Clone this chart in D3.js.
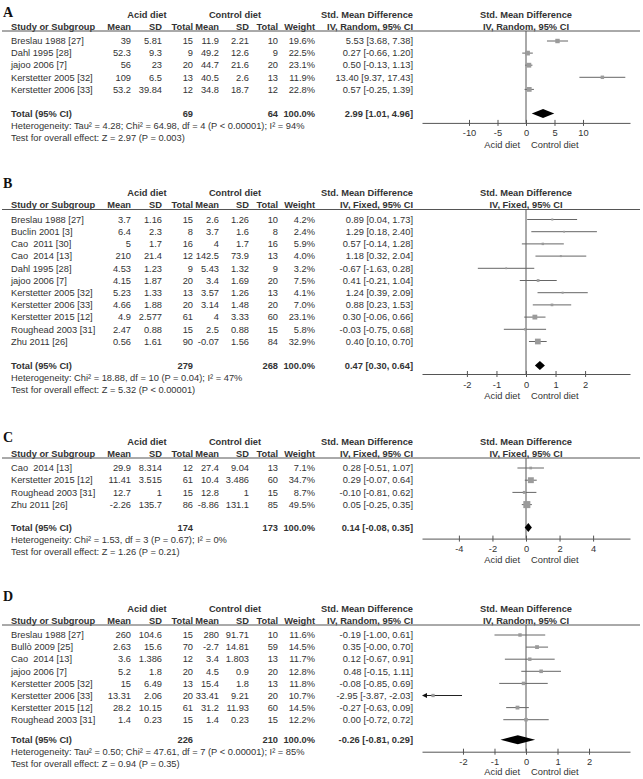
<!DOCTYPE html>
<html><head><meta charset="utf-8">
<script src="https://cdn.jsdelivr.net/npm/d3@7"></script>
<style>
body{margin:0;background:#fff}
svg{display:block}
text{font-family:"Liberation Sans",Arial,sans-serif;font-size:9.3px;fill:#333;white-space:pre}
</style>
</head><body>
<svg id="chart" width="643" height="779"></svg>
<script>
// ---------------- DATA ----------------
// Panel A
const studiesA = ["Breslau 1988 [27]", "Dahl 1995 [28]", "jajoo 2006 [7]", "Kerstetter 2005 [32]", "Kerstetter 2006 [33]"];
const acidMeanA = [39, 52.3, 56, 109, 53.2];
const acidSdA = [5.81, 9.3, 23, 6.5, 39.84];
const acidNA = [15, 9, 20, 13, 12];
const ctrlMeanA = [11.9, 49.2, 44.7, 40.5, 34.8];
const ctrlSdA = [2.21, 12.6, 21.6, 2.6, 18.7];
const ctrlNA = [10, 9, 20, 13, 12];
const weightA = [19.6, 22.5, 23.1, 11.9, 22.8];
const smdA = [5.53, 0.27, 0.50, 13.40, 0.57];
const loA = [3.68, -0.66, -0.13, 9.37, -0.25];
const hiA = [7.38, 1.20, 1.13, 17.43, 1.39];
const totalA = {acidN: 69, ctrlN: 64, weight: 100.0, est: 2.99, lo: 1.01, hi: 4.96};
const hetA = "Heterogeneity: Tau² = 4.28; Chi² = 64.98, df = 4 (P < 0.00001); I² = 94%";
const testA = "Test for overall effect: Z = 2.97 (P = 0.003)";
const ticksA = [-10, -5, 0, 5, 10];

// Panel B
const studiesB = ["Breslau 1988 [27]", "Buclin 2001 [3]", "Cao  2011 [30]", "Cao  2014 [13]", "Dahl 1995 [28]", "jajoo 2006 [7]", "Kerstetter 2005 [32]", "Kerstetter 2006 [33]", "Kerstetter 2015 [12]", "Roughead 2003 [31]", "Zhu 2011 [26]"];
const acidMeanB = [3.7, 6.4, 5, 210, 4.53, 4.15, 5.23, 4.66, 4.9, 2.47, 0.56];
const acidSdB = [1.16, 2.3, 1.7, 21.4, 1.23, 1.87, 1.33, 1.88, 2.577, 0.88, 1.61];
const acidNB = [15, 8, 16, 12, 9, 20, 13, 20, 61, 15, 90];
const ctrlMeanB = [2.6, 3.7, 4, 142.5, 5.43, 3.4, 3.57, 3.14, 4, 2.5, -0.07];
const ctrlSdB = [1.26, 1.6, 1.7, 73.9, 1.32, 1.69, 1.26, 1.48, 3.33, 0.88, 1.56];
const ctrlNB = [10, 8, 16, 13, 9, 20, 13, 20, 60, 15, 84];
const weightB = [4.2, 2.4, 5.9, 4.0, 3.2, 7.5, 4.1, 7.0, 23.1, 5.8, 32.9];
const smdB = [0.89, 1.29, 0.57, 1.18, -0.67, 0.41, 1.24, 0.88, 0.30, -0.03, 0.40];
const loB = [0.04, 0.18, -0.14, 0.32, -1.63, -0.21, 0.39, 0.23, -0.06, -0.75, 0.10];
const hiB = [1.73, 2.40, 1.28, 2.04, 0.28, 1.04, 2.09, 1.53, 0.66, 0.68, 0.70];
const totalB = {acidN: 279, ctrlN: 268, weight: 100.0, est: 0.47, lo: 0.30, hi: 0.64};
const hetB = "Heterogeneity: Chi² = 18.88, df = 10 (P = 0.04); I² = 47%";
const testB = "Test for overall effect: Z = 5.32 (P < 0.00001)";
const ticksB = [-2, -1, 0, 1, 2];

// Panel C
const studiesC = ["Cao  2014 [13]", "Kerstetter 2015 [12]", "Roughead 2003 [31]", "Zhu 2011 [26]"];
const acidMeanC = [29.9, 11.41, 12.7, -2.26];
const acidSdC = [8.314, 3.515, 1, 135.7];
const acidNC = [12, 61, 15, 86];
const ctrlMeanC = [27.4, 10.4, 12.8, -8.86];
const ctrlSdC = [9.04, 3.486, 1, 131.1];
const ctrlNC = [13, 60, 15, 85];
const weightC = [7.1, 34.7, 8.7, 49.5];
const smdC = [0.28, 0.29, -0.10, 0.05];
const loC = [-0.51, -0.07, -0.81, -0.25];
const hiC = [1.07, 0.64, 0.62, 0.35];
const totalC = {acidN: 174, ctrlN: 173, weight: 100.0, est: 0.14, lo: -0.08, hi: 0.35};
const hetC = "Heterogeneity: Chi² = 1.53, df = 3 (P = 0.67); I² = 0%";
const testC = "Test for overall effect: Z = 1.26 (P = 0.21)";
const ticksC = [-4, -2, 0, 2, 4];

// Panel D
const studiesD = ["Breslau 1988 [27]", "Bullò 2009 [25]", "Cao  2014 [13]", "jajoo 2006 [7]", "Kerstetter 2005 [32]", "Kerstetter 2006 [33]", "Kerstetter 2015 [12]", "Roughead 2003 [31]"];
const acidMeanD = [260, 2.63, 3.6, 5.2, 15, 13.31, 28.2, 1.4];
const acidSdD = [104.6, 15.6, 1.386, 1.8, 6.49, 2.06, 10.15, 0.23];
const acidND = [15, 70, 12, 20, 13, 20, 61, 15];
const ctrlMeanD = [280, -2.7, 3.4, 4.5, 15.4, 33.41, 31.2, 1.4];
const ctrlSdD = [91.71, 14.81, 1.803, 0.9, 1.8, 9.21, 11.93, 0.23];
const ctrlND = [10, 59, 13, 20, 13, 20, 60, 15];
const weightD = [11.6, 14.5, 11.7, 12.8, 11.8, 10.7, 14.5, 12.2];
const smdD = [-0.19, 0.35, 0.12, 0.48, -0.08, -2.95, -0.27, 0.00];
const loD = [-1.00, -0.00, -0.67, -0.15, -0.85, -3.87, -0.63, -0.72];
const hiD = [0.61, 0.70, 0.91, 1.11, 0.69, -2.03, 0.09, 0.72];
const totalD = {acidN: 226, ctrlN: 210, weight: 100.0, est: -0.26, lo: -0.81, hi: 0.29};
const hetD = "Heterogeneity: Tau² = 0.50; Chi² = 47.61, df = 7 (P < 0.00001); I² = 85%";
const testD = "Test for overall effect: Z = 0.94 (P = 0.35)";
const ticksD = [-2, -1, 0, 1, 2];

const groupLabels = ["Acid diet", "Control diet"];
const columnLabels = ["Study or Subgroup", "Mean", "SD", "Total", "Mean", "SD", "Total", "Weight"];
const effectLabel = "Std. Mean Difference";

// ---------------- DRAW ----------------
const svg = d3.select("#chart");
svg.append("rect").attr("width", 643).attr("height", 779).attr("fill", "#fff");

function fmt2(v) {
  if (Object.is(v, -0)) return "-0.00";
  return v.toFixed(2);
}
function ci(e, l, h) { return `${fmt2(e)} [${fmt2(l)}, ${fmt2(h)}]`; }

const sizeScale = d3.scaleSqrt().domain([0, 100]).range([0, 10]);

const colX = [11, 131, 162, 193, 219, 249, 278, 315];
const colAnchor = ["start", "end", "end", "end", "end", "end", "end", "end"];
const ciRight = 413;

function drawPanel(p) {
  const g = svg.append("g");
  const u = p.u;
  const x = d3.scaleLinear().domain([-p.max, p.max]).range([422, 630]);
  const rowY = i => u + 10 + i * p.step;
  const n = p.studies.length;
  const totalY = rowY(n - 1) + p.totalGap;
  const axisY = totalY + p.axisGap;

  g.append("text").attr("x", 3).attr("y", p.letterY).attr("dy", "0.35em")
    .style("font-family", "'Liberation Serif','Times New Roman',serif")
    .style("font-size", "14px").style("font-weight", "bold").style("fill", "#111")
    .text(p.letter);

  const h1 = u - 16.5, h2 = u - 4.5;
  const bold = s => s.style("font-weight", "bold");
  const txt = (xx, yy, anchor, s) => g.append("text").attr("x", xx).attr("y", yy).attr("dy", "0.35em").attr("text-anchor", anchor).text(s);
  bold(txt(147, h1, "middle", groupLabels[0]));
  bold(txt(235, h1, "middle", groupLabels[1]));
  bold(txt(ciRight, h1, "end", effectLabel));
  bold(txt(526, h1, "middle", effectLabel));

  columnLabels.forEach((c, j) => bold(txt(colX[j], h2, colAnchor[j], c)));
  bold(txt(ciRight, h2, "end", p.method));
  bold(txt(526, h2, "middle", p.method));

  g.append("line").attr("x1", 2).attr("x2", 640).attr("y1", u).attr("y2", u)
    .attr("stroke", "#555").attr("stroke-width", 1);

  g.append("line").attr("x1", x(0)).attr("x2", x(0)).attr("y1", u).attr("y2", axisY)
    .attr("stroke", "#555").attr("stroke-width", 1);

  for (let i = 0; i < n; i++) {
    const y = rowY(i);
    const cells = [p.studies[i], String(p.acidMean[i]), String(p.acidSd[i]), String(p.acidN[i]),
      String(p.ctrlMean[i]), String(p.ctrlSd[i]), String(p.ctrlN[i]), p.weight[i].toFixed(1) + "%"];
    cells.forEach((c, j) => txt(colX[j], y, colAnchor[j], c));
    txt(ciRight, y, "end", ci(p.smd[i], p.lo[i], p.hi[i]));

    const lo = Math.max(p.lo[i], -p.max), hi = Math.min(p.hi[i], p.max);
    const clipped = p.lo[i] < -p.max;
    g.append("line").attr("x1", x(lo) + (clipped ? 3 : 0)).attr("x2", x(hi)).attr("y1", y).attr("y2", y)
      .attr("stroke", clipped ? "#222" : "#666").attr("stroke-width", 1);
    if (clipped) {
      const ax = x(lo);
      g.append("path").attr("d", `M${ax},${y} L${ax + 5},${y - 2.5} L${ax + 5},${y + 2.5} Z`).attr("fill", "#111");
    }
    const s = Math.max(1.8, sizeScale(p.weight[i]));
    g.append("rect").attr("x", x(p.smd[i]) - s / 2).attr("y", y - s / 2).attr("width", s).attr("height", s)
      .attr("fill", "#9b9b9b");
  }

  bold(txt(colX[0], totalY, "start", "Total (95% CI)"));
  bold(txt(colX[3], totalY, "end", String(p.total.acidN)));
  bold(txt(colX[6], totalY, "end", String(p.total.ctrlN)));
  bold(txt(colX[7], totalY, "end", p.total.weight.toFixed(1) + "%"));
  bold(txt(ciRight, totalY, "end", ci(p.total.est, p.total.lo, p.total.hi)));
  const dh = 4.5;
  g.append("path").attr("d", `M${x(p.total.lo)},${totalY} L${x(p.total.est)},${totalY - dh} L${x(p.total.hi)},${totalY} L${x(p.total.est)},${totalY + dh} Z`)
    .attr("fill", "#000");

  txt(colX[0], totalY + 12, "start", p.het);
  txt(colX[0], totalY + 24, "start", p.test);

  const axis = d3.axisBottom(x).tickValues(p.ticks).tickFormat(d => String(d))
    .tickSizeInner(3).tickSizeOuter(0).tickPadding(4);
  const ag = g.append("g").attr("transform", `translate(0,${axisY})`).call(axis);
  ag.select(".domain").attr("stroke", "#555");
  ag.selectAll(".tick line").attr("y1", -3).attr("stroke", "#555");
  ag.selectAll(".tick text").style("font-size", "9.3px").style("font-family", "'Liberation Sans',Arial,sans-serif").attr("fill", "#333");
  txt(x(0) - 6, axisY + p.labelGap, "end", groupLabels[0]);
  txt(x(0) + 5, axisY + p.labelGap, "start", groupLabels[1]);
}

const panels = [
  {letter: "A", letterY: 12, u: 31, step: 12.1, totalGap: 24, axisGap: 9.5, labelGap: 21.5, max: 18.25, method: "IV, Random, 95% CI",
   studies: studiesA, acidMean: acidMeanA, acidSd: acidSdA, acidN: acidNA, ctrlMean: ctrlMeanA, ctrlSd: ctrlSdA, ctrlN: ctrlNA,
   weight: weightA, smd: smdA, lo: loA, hi: hiA, total: totalA, het: hetA, test: testA, ticks: ticksA},
  {letter: "B", letterY: 183, u: 209.5, step: 12.2, totalGap: 24, axisGap: 8.5, labelGap: 21.5, max: 3.52, method: "IV, Fixed, 95% CI",
   studies: studiesB, acidMean: acidMeanB, acidSd: acidSdB, acidN: acidNB, ctrlMean: ctrlMeanB, ctrlSd: ctrlSdB, ctrlN: ctrlNB,
   weight: weightB, smd: smdB, lo: loB, hi: hiB, total: totalB, het: hetB, test: testB, ticks: ticksB},
  {letter: "C", letterY: 437, u: 458, step: 12.2, totalGap: 23, axisGap: 11, labelGap: 21, max: 6.2, method: "IV, Fixed, 95% CI",
   studies: studiesC, acidMean: acidMeanC, acidSd: acidSdC, acidN: acidNC, ctrlMean: ctrlMeanC, ctrlSd: ctrlSdC, ctrlN: ctrlNC,
   weight: weightC, smd: smdC, lo: loC, hi: hiC, total: totalC, het: hetC, test: testC, ticks: ticksC},
  {letter: "D", letterY: 596, u: 625, step: 12.1, totalGap: 20, axisGap: 12, labelGap: 20, max: 3.3, method: "IV, Random, 95% CI",
   studies: studiesD, acidMean: acidMeanD, acidSd: acidSdD, acidN: acidND, ctrlMean: ctrlMeanD, ctrlSd: ctrlSdD, ctrlN: ctrlND,
   weight: weightD, smd: smdD, lo: loD, hi: hiD, total: totalD, het: hetD, test: testD, ticks: ticksD}
];
panels.forEach(drawPanel);
</script>
</body></html>
